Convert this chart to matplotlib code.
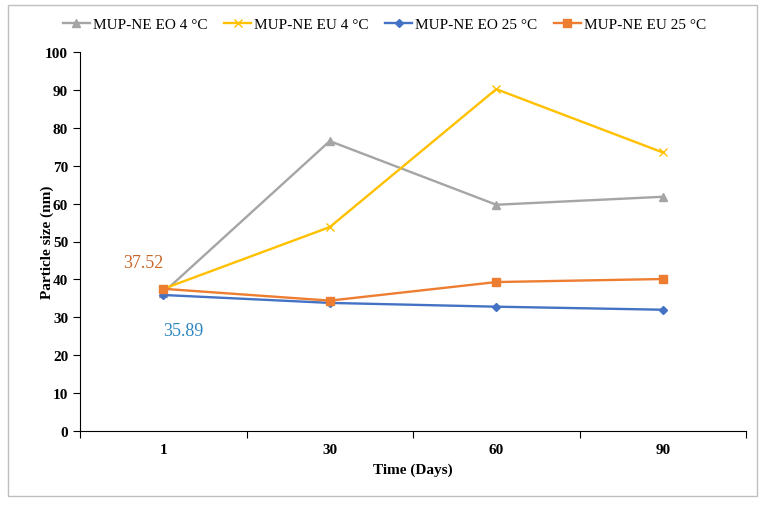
import matplotlib.pyplot as plt
from matplotlib.patches import Rectangle

plt.rcParams['font.family'] = ['Liberation Serif', 'DejaVu Serif']

days = ['1', '30', '60', '90']
eo_4 = [36.5, 76.5, 59.7, 61.8]
eu_4 = [37.5, 53.8, 90.2, 73.5]
eo_25 = [35.89, 33.8, 32.8, 32.0]
eu_25 = [37.52, 34.4, 39.3, 40.1]

fig = plt.figure(figsize=(7.69, 5.10), dpi=100)
ax = fig.add_axes([80/769, 1-432/510, 666/769, 379/510])

x = list(range(len(days)))
ax.plot(x, eo_4, color='#A5A5A5', marker='^', ms=6, lw=1.7, label='MUP-NE EO 4 °C')
ax.plot(x, eu_4, color='#FFC000', marker='x', ms=6, mew=1, lw=1.7, label='MUP-NE EU 4 °C')
ax.plot(x, eo_25, color='#4472C4', marker='D', ms=4, lw=1.7, label='MUP-NE EO 25 °C')
ax.plot(x, eu_25, color='#ED7D31', marker='s', ms=6, lw=1.7, label='MUP-NE EU 25 °C')

ax.text(-0.12, 44.5, '37.52', color='#C9662A', fontsize=13, ha='center', va='center')
ax.text(0.12, 26.5, '35.89', color='#2E86C1', fontsize=13, ha='center', va='center')

ax.set_xlim(-0.5, len(days) - 0.5)
ax.set_ylim(0, 100)
ax.set_yticks(range(0, 101, 10))
ax.set_xticks([i - 0.5 for i in range(len(days) + 1)])
ax.set_xticklabels([])
ax.set_xticks(x, minor=True)
ax.set_xticklabels(days, minor=True, fontweight='bold', fontsize=11)
ax.tick_params(axis='x', which='minor', length=0, pad=9)
ax.tick_params(axis='x', which='major', length=5, direction='out')
ax.tick_params(axis='y', length=5, direction='out', labelsize=11)
for t in ax.get_yticklabels():
    t.set_fontweight('bold')
ax.spines['top'].set_visible(False)
ax.spines['right'].set_visible(False)
ax.set_xlabel('Time (Days)', fontweight='bold', fontsize=11, labelpad=4)
ax.set_ylabel('Particle size (nm)', fontweight='bold', fontsize=11, labelpad=-6)

fig.legend(loc='center', bbox_to_anchor=(0.5, 1-25/510), ncol=4, frameon=False,
           fontsize=11, handlelength=1.8, columnspacing=1.05, handletextpad=0.2)

fig.patches.append(Rectangle((8/769, 1-497/510), 749/769, 491/510, transform=fig.transFigure,
                             fill=False, edgecolor='#BFBFBF', lw=1))

fig.savefig('out.png', dpi=100)
